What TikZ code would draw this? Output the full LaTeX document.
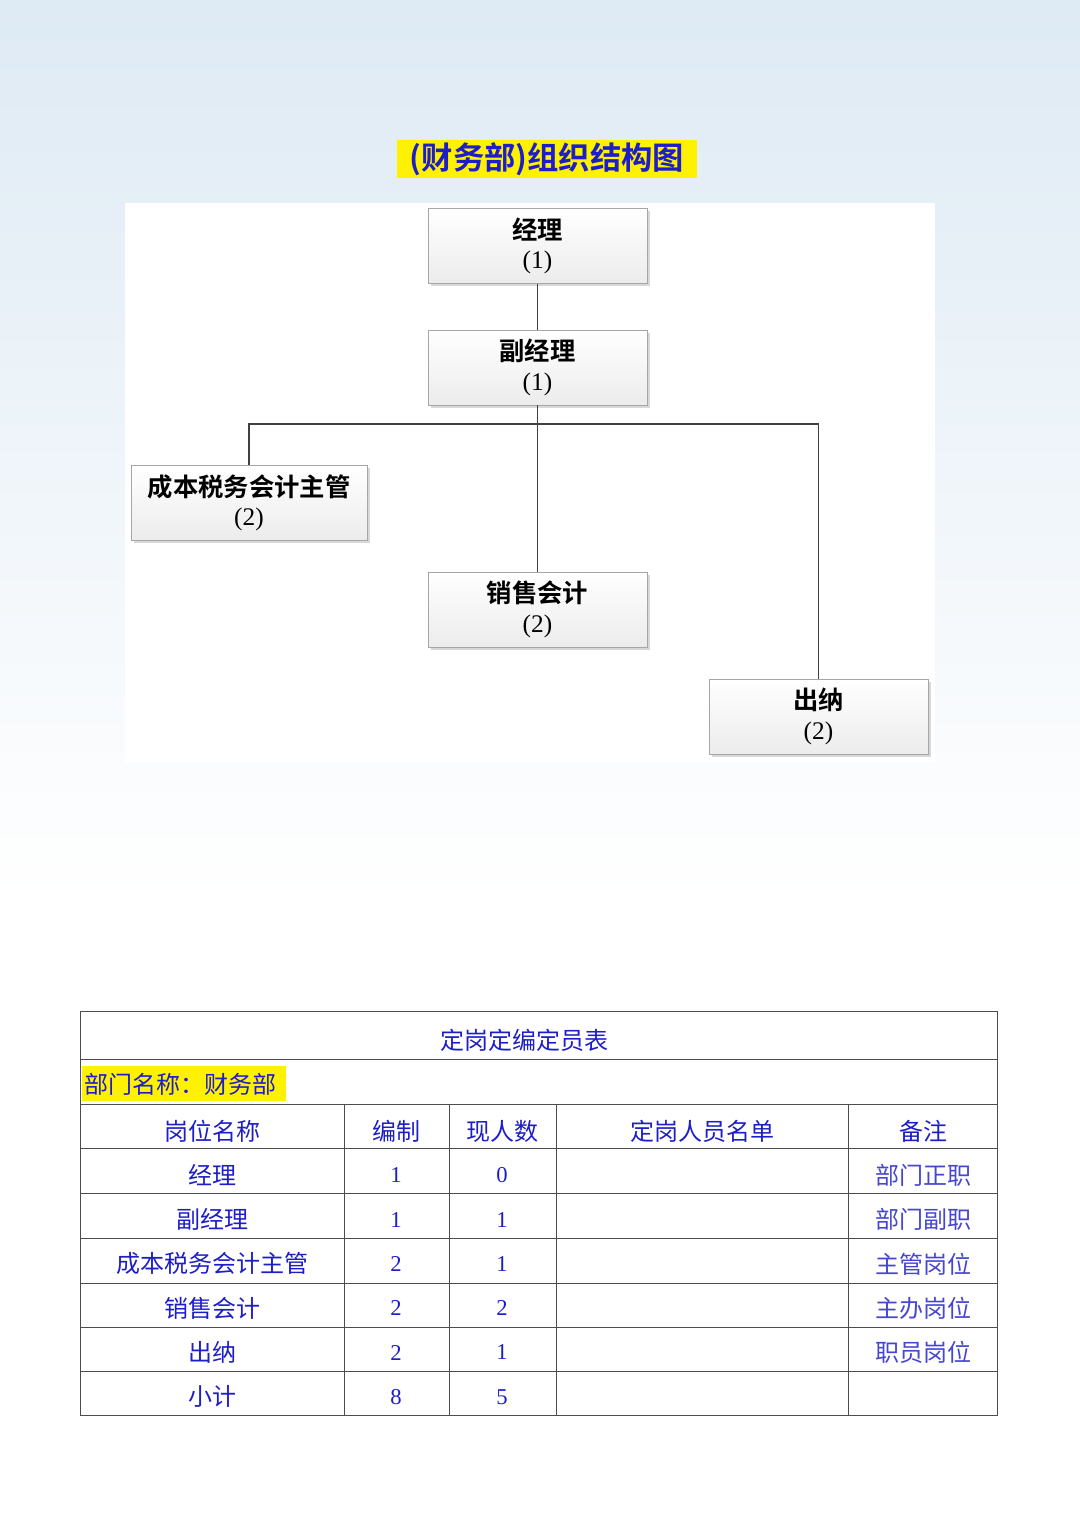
\documentclass[tikz,border=0pt]{standalone}
\usepackage{fontspec}
\newfontfamily\cjk{Noto Sans CJK SC}
\newfontfamily\cjkb{Noto Sans CJK SC Bold}
\setmainfont{Liberation Serif}
\usetikzlibrary{shadows}
\definecolor{tblue}{RGB}{30,30,200}
\definecolor{rblue}{RGB}{70,70,210}
\tikzset{
 box/.style={draw=gray!70,top color=white,bottom color=gray!15,minimum width=164pt,minimum height=56pt,align=center,font=\cjkb\fontsize{19}{22}\selectfont,drop shadow={shadow xshift=2pt,shadow yshift=-2pt,opacity=0.3},inner sep=0pt},
 conn/.style={draw=black!75,line width=1.4pt},
 cell/.style={font=\cjk\fontsize{18}{21}\selectfont,text=tblue,anchor=center},
 num/.style={font=\fontsize{17}{20}\selectfont,text=tblue,anchor=center},
 grid/.style={draw=black!70,line width=0.6pt}
}
\begin{document}
\begin{tikzpicture}[x=0.75pt,y=-0.75pt]
\shade[top color={rgb,255:red,222;green,234;blue,244},bottom color=white] (0,0) rectangle (1080,900);
\fill[white] (0,900) rectangle (1080,1523);
\useasboundingbox (0,0) rectangle (1080,1523);
\fill[yellow] (397,140) rectangle (697,178);
\node[font=\cjkb\fontsize{23.5}{26}\selectfont,text=tblue] (title) at (547,159) {(财务部)组织结构图};
\fill[white] (125,203) rectangle (935,763);
\node[box] (a) at (537.5,246) {经理\\{\rmfamily (1)}};
\node[box] (b) at (537.5,367.5) {副经理\\{\rmfamily (1)}};
\node[box,minimum width=177pt] (c) at (249,503) {成本税务会计主管\\{\rmfamily (2)}};
\node[box] (d) at (537.5,609.5) {销售会计\\{\rmfamily (2)}};
\node[box] (e) at (818.5,716.5) {出纳\\{\rmfamily (2)}};
\coordinate (j) at (537.5,424);
\draw[conn] (a) -- (b);
\draw[conn] (b) -- (d);
\draw[conn] (c.north) |- (j) -| (e.north);
% table
\draw[grid] (80,1011) rectangle (997,1415);
\foreach \y in {1059,1104,1148,1193,1238,1283,1327,1371} \draw[grid] (80,\y) -- (997,\y);
\foreach \x in {344,449,556,848} \draw[grid] (\x,1104) -- (\x,1415);
\node[cell] (t0) at (524,1040) {定岗定编定员表};
\fill[yellow] (82,1066) rectangle (286,1101);
\node[cell,anchor=west,inner sep=0pt] (t1) at (84,1084) {部门名称：财务部};
\foreach \t/\x in {岗位名称/212,编制/396,现人数/502,定岗人员名单/702,备注/923}
  \node[cell] at (\x,1131) {\t};
\foreach \n/\a/\b/\r [count=\i] in {经理/1/0/部门正职,副经理/1/1/部门副职,成本税务会计主管/2/1/主管岗位,销售会计/2/2/主办岗位,出纳/2/1/职员岗位,小计/8/5/{}}{
  \pgfmathsetmacro\yy{1131+44.3*\i}
  \node[cell] at (212,\yy) {\n};
  \node[num] at (396,\yy) {\a};
  \node[num] at (502,\yy) {\b};
  \node[cell,text=rblue] at (923,\yy) {\r};
}
\end{tikzpicture}
\end{document}
